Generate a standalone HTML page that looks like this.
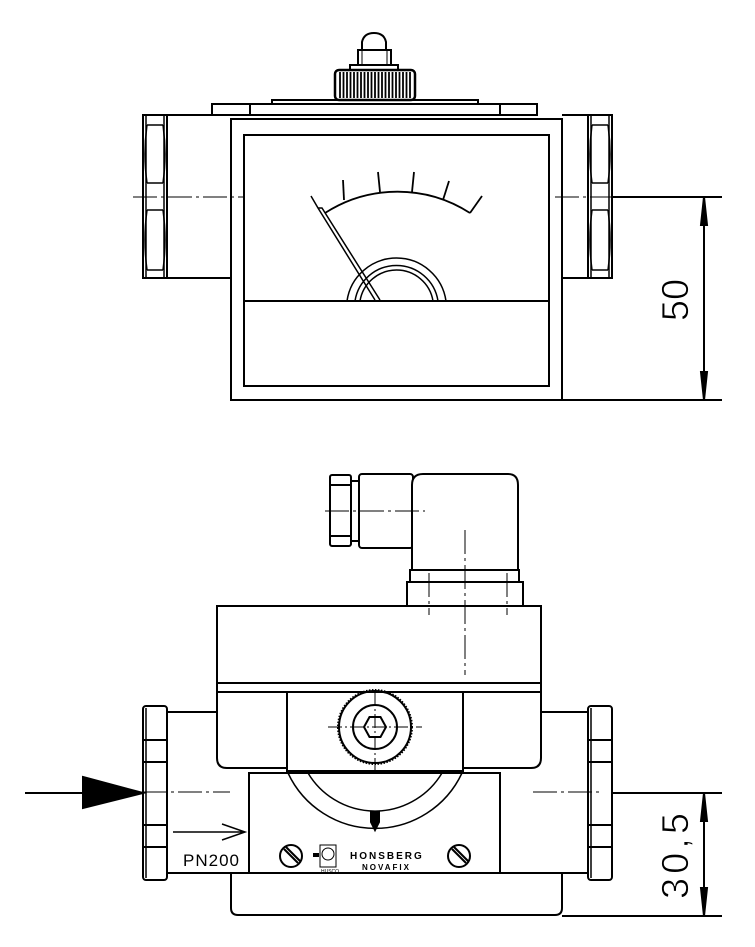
<!DOCTYPE html>
<html><head><meta charset="utf-8"><style>
html,body{margin:0;padding:0;background:#fff;}
svg{display:block;}
text{font-family:"Liberation Sans",sans-serif;}
</style></head><body>
<svg width="755" height="947" viewBox="0 0 755 947" xmlns="http://www.w3.org/2000/svg">
<g fill="none" stroke="#000" stroke-width="2">
<!-- ===== TOP VIEW ===== -->
<path d="M362 50 L362 42 Q364 33 374 33 Q384 33 386 42 L386 50 Z"/>
<rect x="358" y="50" width="33" height="15"/>
<line x1="362" y1="50" x2="362" y2="65" stroke-width="1"/><line x1="387" y1="50" x2="387" y2="65" stroke-width="1"/>
<rect x="350" y="65" width="48" height="5"/>
<rect x="335" y="70" width="80" height="30" rx="4" stroke-width="2.5"/>
<g stroke-width="1.8">
<line x1="340" y1="72" x2="340" y2="98"/><line x1="343.5" y1="72" x2="343.5" y2="98"/><line x1="347" y1="72" x2="347" y2="98"/><line x1="350.5" y1="72" x2="350.5" y2="98"/><line x1="354" y1="72" x2="354" y2="98"/><line x1="357.5" y1="72" x2="357.5" y2="98"/><line x1="361" y1="72" x2="361" y2="98"/><line x1="364.5" y1="72" x2="364.5" y2="98"/><line x1="368" y1="72" x2="368" y2="98"/><line x1="371.5" y1="72" x2="371.5" y2="98"/><line x1="375" y1="72" x2="375" y2="98"/><line x1="378.5" y1="72" x2="378.5" y2="98"/><line x1="382" y1="72" x2="382" y2="98"/><line x1="385.5" y1="72" x2="385.5" y2="98"/><line x1="389" y1="72" x2="389" y2="98"/><line x1="392.5" y1="72" x2="392.5" y2="98"/><line x1="396" y1="72" x2="396" y2="98"/><line x1="399.5" y1="72" x2="399.5" y2="98"/><line x1="403" y1="72" x2="403" y2="98"/><line x1="406.5" y1="72" x2="406.5" y2="98"/><line x1="410" y1="72" x2="410" y2="98"/>
</g>
<rect x="272" y="100" width="206" height="4"/>
<rect x="212" y="104" width="325" height="11"/>
<line x1="250" y1="104" x2="250" y2="115"/><line x1="500" y1="104" x2="500" y2="115"/>
<line x1="167" y1="115" x2="231" y2="115"/><line x1="167" y1="278" x2="231" y2="278"/>
<line x1="562" y1="115" x2="588" y2="115"/><line x1="562" y1="278" x2="588" y2="278"/>
<g id="fitT">
<rect x="143" y="115" width="24" height="163"/>
<line x1="146" y1="115" x2="146" y2="278" stroke-width="1.5"/><line x1="164" y1="115" x2="164" y2="278" stroke-width="1.5"/>
<line x1="147" y1="125" x2="163" y2="125" stroke-width="1.5"/><line x1="147" y1="183" x2="163" y2="183" stroke-width="1.5"/>
<line x1="147" y1="210" x2="163" y2="210" stroke-width="1.5"/><line x1="147" y1="270" x2="163" y2="270" stroke-width="1.5"/>
<path d="M147 125 Q143 154 147 183 M163 125 Q167 154 163 183 M147 210 Q143 240 147 270 M163 210 Q167 240 163 270" stroke-width="1.5"/>
</g>
<use href="#fitT" transform="translate(445 0)"/>
<rect x="231" y="119" width="331" height="281"/>
<rect x="244" y="135" width="305" height="251"/>
<line x1="244" y1="301" x2="549" y2="301"/>
<line x1="562" y1="400" x2="722" y2="400"/>
<path d="M325 213 A134 134 0 0 1 470 213" stroke-width="1.8"/>
<g stroke-width="1.8">
<line x1="344" y1="200" x2="343" y2="180"/><line x1="380" y1="192" x2="378" y2="172"/><line x1="412" y1="192" x2="414" y2="172"/>
<line x1="443" y1="200" x2="449" y2="181"/><line x1="470" y1="213" x2="482" y2="196"/>
</g>
<path d="M347 301 A50 50 0 0 1 446 301" stroke-width="1.5"/>
<path d="M355 301 A42 42 0 0 1 438 301 M360 301 A37 37 0 0 1 433 301" stroke-width="1.5"/>
<path d="M311 196 L318 208 L375 300 M318 208 L322 208 L380 300" stroke-width="1.5"/>
<g stroke-width="1" stroke-dasharray="24 4 3 4">
<line x1="133" y1="197" x2="243" y2="197"/><line x1="555" y1="197" x2="620" y2="197"/>
</g>
<line x1="612" y1="197" x2="722" y2="197"/>
<line x1="704" y1="197" x2="704" y2="400"/>
<path d="M704 197 L701 225 L707 225 Z M704 400 L701 372 L707 372 Z" fill="#000"/>

<!-- ===== BOTTOM VIEW ===== -->
<rect x="330" y="475" width="21" height="71" rx="2"/>
<line x1="330" y1="485" x2="351" y2="485"/><line x1="330" y1="536" x2="351" y2="536"/>
<rect x="351" y="481" width="8" height="60"/>
<rect x="359" y="474" width="54" height="74" rx="3"/>
<path d="M412 570 L412 485 Q412 474 423 474 L508 474 Q518 474 518 485 L518 570 Z" fill="#fff"/>
<rect x="410" y="570" width="109" height="12"/>
<rect x="407" y="582" width="116" height="24"/>
<rect x="217" y="606" width="324" height="77"/>
<path d="M217 683 L217 758 Q217 768 227 768 L531 768 Q541 768 541 758 L541 683"/>
<line x1="217" y1="692" x2="541" y2="692"/>
<line x1="167" y1="712" x2="217" y2="712"/><line x1="541" y1="712" x2="588" y2="712"/>
<line x1="167" y1="873" x2="249" y2="873"/><line x1="500" y1="873" x2="588" y2="873"/>
<g id="fitB">
<rect x="143" y="706" width="24" height="174" rx="3"/>
<line x1="146" y1="708" x2="146" y2="878" stroke-width="1.5"/>
<line x1="143" y1="740" x2="167" y2="740"/><line x1="143" y1="762" x2="167" y2="762"/>
<line x1="143" y1="825" x2="167" y2="825"/><line x1="143" y1="847" x2="167" y2="847"/>
</g>
<use href="#fitB" transform="translate(445 0)"/>
<rect x="249" y="773" width="251" height="100"/>
<path d="M288 773 A96 96 0 0 0 462 773" stroke-width="1.5"/>
<path d="M308 773 A78 78 0 0 0 442 773" stroke-width="1.5"/>
<path d="M371 812 L379 812 L379 822 L375 830 L371 822 Z" fill="#000"/>
<rect x="287" y="692" width="176" height="79" fill="#fff"/>
<circle cx="375" cy="727" r="37" stroke-dasharray="1.5 1.5"/>
<circle cx="375" cy="727" r="36"/>
<circle cx="375" cy="727" r="22"/>
<polygon points="364,727 369.5,717 380.5,717 386,727 380.5,737 369.5,737"/>
<g stroke-width="1" stroke-dasharray="14 3 2 3">
<line x1="328" y1="727" x2="422" y2="727"/><line x1="375" y1="692" x2="375" y2="774"/>
</g>
<path d="M231 873 L231 908 Q231 915 238 915 L555 915 Q562 915 562 908 L562 873"/>
<line x1="562" y1="916" x2="722" y2="916"/>
<circle cx="291" cy="856" r="11"/><line x1="284" y1="849" x2="298" y2="863"/><line x1="286" y1="847" x2="300" y2="861"/>
<circle cx="459" cy="856" r="11"/><line x1="452" y1="849" x2="466" y2="863"/><line x1="454" y1="847" x2="468" y2="861"/>
<rect x="320" y="845" width="16" height="22" stroke-width="1"/>
<circle cx="328" cy="854" r="6" stroke-width="1"/>
<rect x="313" y="853" width="6" height="4" fill="#000" stroke="none"/>
<line x1="25" y1="793" x2="143" y2="793"/>
<path d="M83 777 L143 793 L83 808 Z" fill="#000"/>
<path d="M173 832 L243 832 M222 824 L245 832 L222 840" stroke-width="1.5"/>
<g stroke-width="1" stroke-dasharray="24 4 3 4">
<line x1="325" y1="511" x2="425" y2="511"/>
<line x1="465" y1="530" x2="465" y2="675"/>
<line x1="429" y1="573" x2="429" y2="615"/><line x1="507" y1="573" x2="507" y2="615"/>
<line x1="143" y1="792" x2="230" y2="792"/><line x1="533" y1="792" x2="600" y2="792"/>
</g>
<line x1="612" y1="793" x2="722" y2="793"/>
<line x1="704" y1="793" x2="704" y2="916"/>
<path d="M704 793 L701 821 L707 821 Z M704 916 L701 888 L707 888 Z" fill="#000"/>
</g>
<text x="350" y="859" font-size="10" font-weight="bold" letter-spacing="2">HONSBERG</text>
<text x="362" y="870" font-size="8" font-weight="bold" letter-spacing="2">NOVAFIX</text>
<text x="321" y="873" font-size="5">HUSCO</text>
<text x="183" y="866" font-size="17" letter-spacing="1">PN200</text>
<text transform="translate(688 300) rotate(-90)" font-size="38" text-anchor="middle" fill="#000" stroke="#fff" stroke-width="0.8">50</text>
<text transform="translate(688 854) rotate(-90)" font-size="38" text-anchor="middle" letter-spacing="4" fill="#000" stroke="#fff" stroke-width="0.8">30,5</text>
</svg>
</body></html>
